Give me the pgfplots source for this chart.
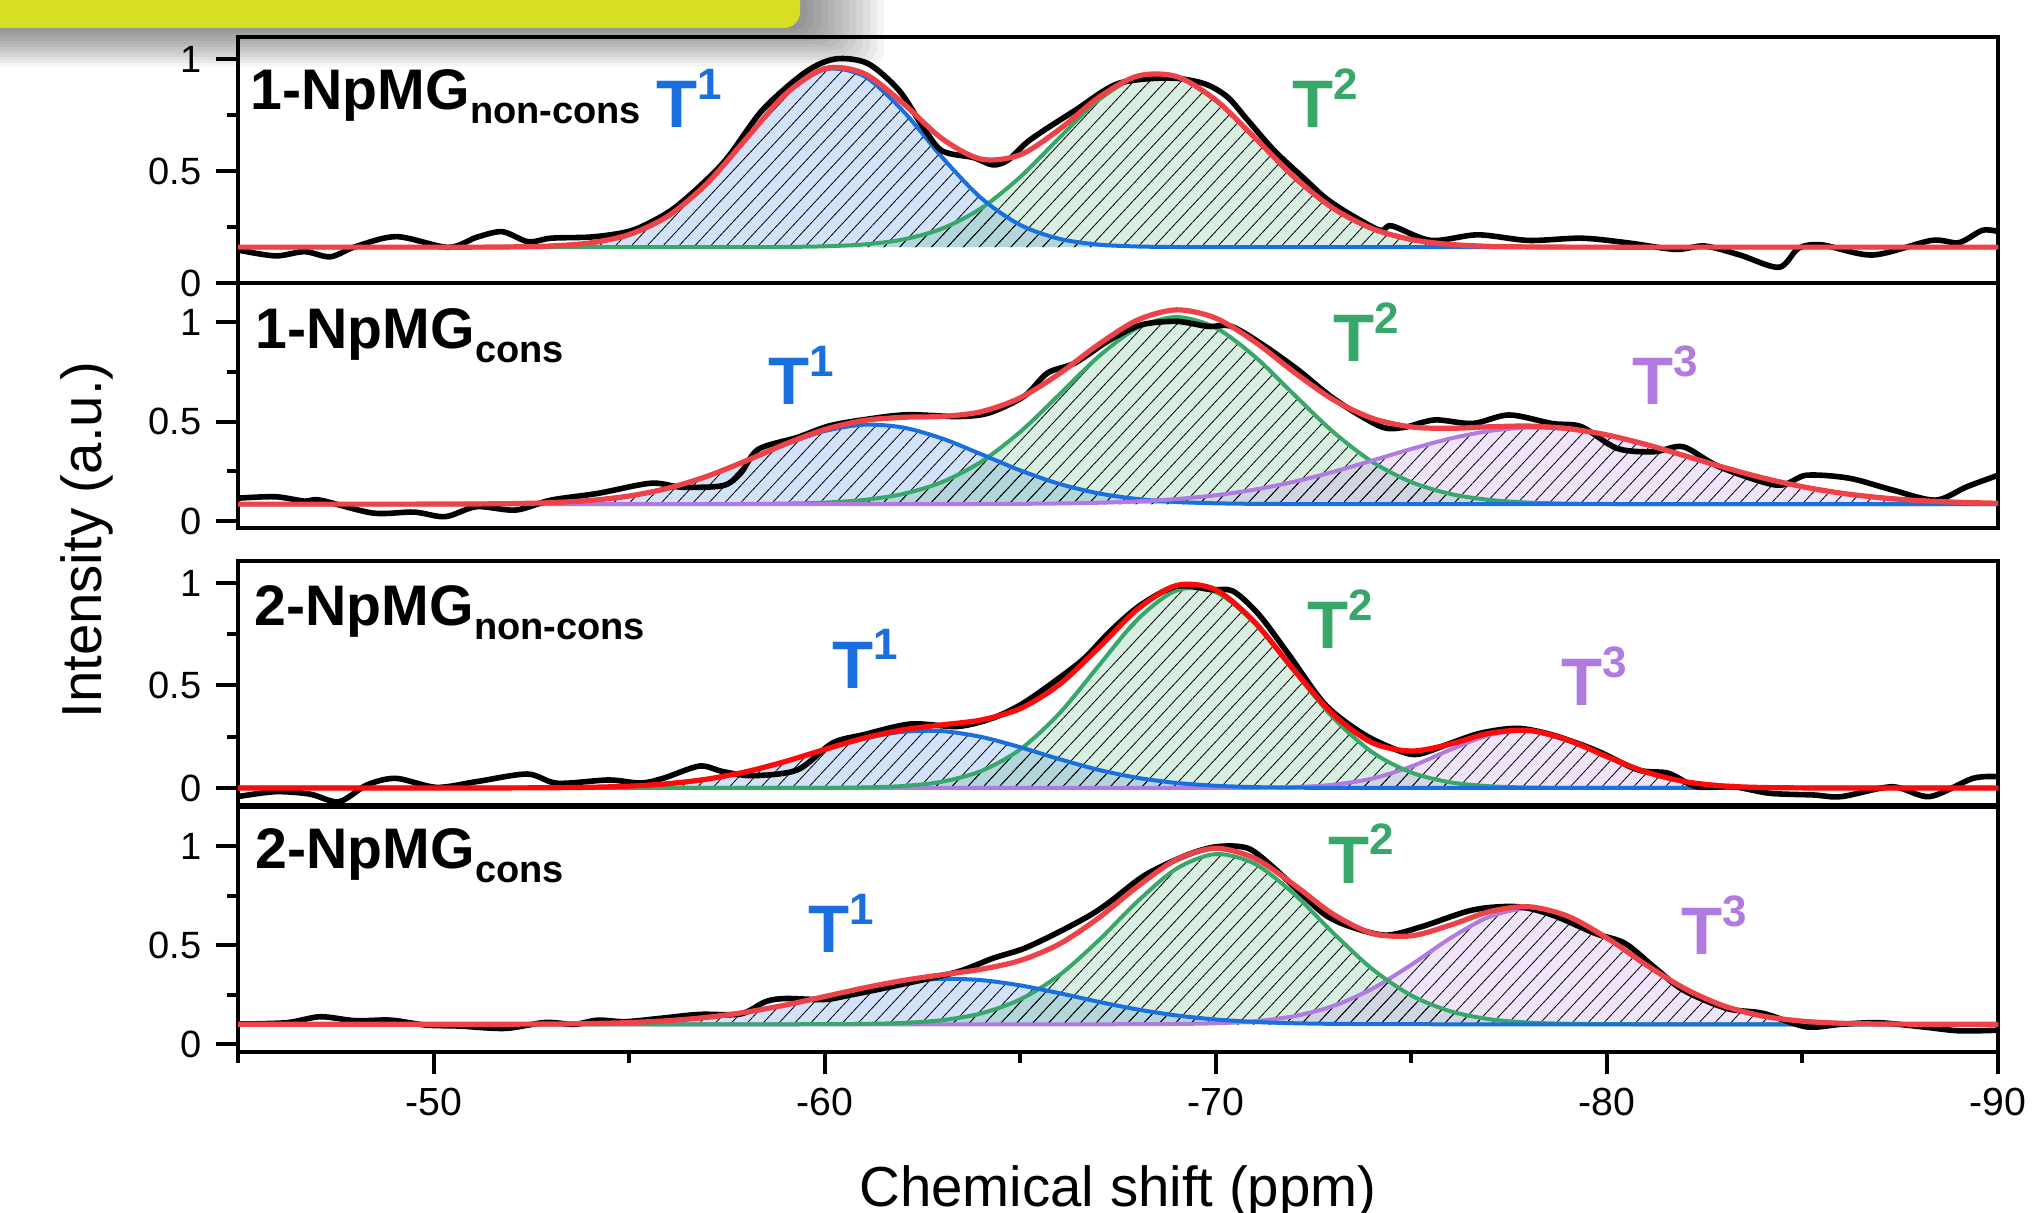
\documentclass[border=0pt]{standalone}
\usepackage{fontspec}
\setmainfont{Liberation Sans}
\usepackage{pgfplots}
\usepackage{pgfplotstable}
\pgfplotsset{compat=1.18}
\usepgfplotslibrary{fillbetween}
\usetikzlibrary{patterns.meta}

\definecolor{cT1}{HTML}{1A6FDF}
\definecolor{cT2}{HTML}{37A86A}
\definecolor{cT3}{HTML}{B07AE0}
\definecolor{cfit}{HTML}{EE4248}
\definecolor{cfitB}{HTML}{FF0A0A}
\definecolor{barcol}{HTML}{D7DF23}

% ---------- fitted components (x, T1, T2, [T3], sum) ----------
\pgfplotstableread{
x t1 t2 sum
-45 0.16 0.16 0.16
-46 0.16 0.16 0.16
-47 0.16 0.16 0.16
-48 0.16 0.16 0.16
-49 0.16 0.16 0.16
-50 0.16 0.16 0.16
-51 0.16 0.16 0.16
-52 0.1612 0.16 0.1612
-53 0.1652 0.16 0.1652
-54 0.1788 0.16 0.1788
-55 0.2162 0.16 0.2162
-56 0.2994 0.16 0.2994
-57 0.4458 0.16 0.4458
-58 0.6452 0.1602 0.6454
-59 0.8419 0.161 0.8429
-60 0.9532 0.1637 0.9569
-61 0.9238 0.1721 0.9359
-62 0.7688 0.194 0.8028
-63 0.5617 0.2427 0.6444
-64 0.3794 0.3333 0.5527
-65 0.2591 0.4732 0.5723
-66 0.1971 0.6481 0.6852
-67 0.1715 0.8162 0.8277
-68 0.1629 0.9208 0.9237
-69 0.1606 0.9208 0.9214
-70 0.16 0.8162 0.8162
-71 0.16 0.6481 0.6481
-72 0.16 0.4732 0.4732
-73 0.16 0.3333 0.3333
-74 0.16 0.2427 0.2427
-75 0.16 0.194 0.194
-76 0.16 0.1721 0.1721
-77 0.16 0.1637 0.1637
-78 0.16 0.161 0.161
-79 0.16 0.1602 0.1602
-80 0.16 0.16 0.16
-82 0.16 0.16 0.16
-84 0.16 0.16 0.16
-86 0.16 0.16 0.16
-88 0.16 0.16 0.16
-90 0.16 0.16 0.16
}\tA

\pgfplotstableread{
x t1 t2 t3 sum
-45 0.085 0.085 0.085 0.085
-47 0.085 0.085 0.085 0.085
-49 0.085 0.085 0.085 0.085
-50 0.0852 0.085 0.085 0.0852
-51 0.0858 0.085 0.085 0.0858
-52 0.0876 0.085 0.085 0.0876
-53 0.0923 0.085 0.085 0.0923
-54 0.1034 0.085 0.085 0.1034
-55 0.1257 0.085 0.085 0.1257
-56 0.1651 0.085 0.085 0.1651
-57 0.2251 0.0852 0.085 0.2253
-58 0.3026 0.0857 0.085 0.3033
-59 0.385 0.0875 0.085 0.3875
-60 0.4522 0.0926 0.085 0.4598
-61 0.484 0.106 0.085 0.505
-62 0.4701 0.136 0.085 0.5211
-63 0.4149 0.1955 0.0852 0.5256
-64 0.336 0.2976 0.0856 0.5492
-65 0.2545 0.4481 0.0864 0.619
-66 0.1866 0.6355 0.0883 0.7404
-67 0.1391 0.826 0.0919 0.887
-68 0.1106 0.9708 0.0987 1.0101
-69 0.0957 1.025 0.1105 1.0612
-70 0.089 0.9708 0.1296 1.0194
-71 0.0863 0.826 0.1581 0.9004
-72 0.0854 0.6355 0.1973 0.7482
-73 0.085 0.4481 0.2469 0.61
-74 0.085 0.2976 0.3037 0.5163
-75 0.085 0.1955 0.3623 0.4728
-76 0.085 0.136 0.4147 0.4657
-77 0.085 0.106 0.4526 0.4736
-78 0.085 0.0926 0.4695 0.4771
-79 0.085 0.0875 0.4622 0.4647
-80 0.085 0.0857 0.432 0.4327
-81 0.085 0.0852 0.3845 0.3847
-82 0.085 0.085 0.3274 0.3274
-83 0.085 0.085 0.269 0.269
-84 0.085 0.085 0.216 0.216
-85 0.085 0.085 0.1725 0.1725
-86 0.085 0.085 0.1398 0.1398
-87 0.085 0.085 0.1172 0.1172
-88 0.085 0.085 0.1027 0.1027
-89 0.085 0.085 0.0942 0.0942
-90 0.085 0.085 0.0894 0.0894
}\tB

\pgfplotstableread{
x t1 t2 t3 sum
-45 0 0 0 0
-47 0 0 0 0
-49 0 0 0 0
-51 0 0 0 0
-52 0.0004 0 0 0.0004
-53 0.0012 0 0 0.0012
-54 0.0034 0 0 0.0034
-55 0.009 0 0 0.009
-56 0.021 0 0 0.021
-57 0.0434 0 0 0.0434
-58 0.0796 0 0 0.0796
-59 0.1296 0 0 0.1296
-60 0.1873 0.0006 0 0.1879
-61 0.2405 0.0026 0 0.2431
-62 0.2741 0.0096 0 0.2837
-63 0.2773 0.0306 0 0.3079
-64 0.2492 0.0825 0 0.3317
-65 0.1988 0.1882 0 0.387
-66 0.1408 0.3636 0 0.5044
-67 0.0886 0.5944 0 0.683
-68 0.0494 0.8225 0 0.8719
-69 0.0245 0.9636 0 0.9881
-70 0.0108 0.9556 0.0001 0.9665
-71 0.0042 0.8022 0.0009 0.8073
-72 0.0015 0.5702 0.0042 0.5759
-73 0.0005 0.343 0.0157 0.3592
-74 0 0.1746 0.0461 0.2207
-75 0 0.0753 0.1051 0.1804
-76 0 0.0275 0.1868 0.2143
-77 0 0.0085 0.2585 0.267
-78 0 0.0022 0.2786 0.2808
-79 0 0.0005 0.2339 0.2344
-80 0 0 0.1529 0.1529
-81 0 0 0.0778 0.0778
-82 0 0 0.0309 0.0309
-83 0 0 0.0095 0.0095
-84 0 0 0.0023 0.0023
-85 0 0 0.0004 0.0004
-86 0 0 0 0
-88 0 0 0 0
-90 0 0 0 0
}\tC

\pgfplotstableread{
x t1 t2 t3 sum
-45 0.1 0.1 0.1 0.1
-47 0.1 0.1 0.1 0.1
-49 0.1 0.1 0.1 0.1
-50 0.1 0.1 0.1 0.1
-51 0.1002 0.1 0.1 0.1002
-52 0.1005 0.1 0.1 0.1005
-53 0.1014 0.1 0.1 0.1014
-54 0.1037 0.1 0.1 0.1037
-55 0.1086 0.1 0.1 0.1086
-56 0.1183 0.1 0.1 0.1183
-57 0.1352 0.1 0.1 0.1352
-58 0.1614 0.1 0.1 0.1614
-59 0.1972 0.1 0.1 0.1972
-60 0.2395 0.1005 0.1 0.24
-61 0.2816 0.1019 0.1 0.2835
-62 0.3144 0.1067 0.1 0.3211
-63 0.3295 0.1206 0.1 0.3501
-64 0.3229 0.1549 0.1 0.3778
-65 0.2964 0.2256 0.1 0.422
-66 0.2569 0.3481 0.1 0.505
-67 0.2136 0.5225 0.1 0.6361
-68 0.1747 0.7207 0.1004 0.7958
-69 0.1445 0.8864 0.1015 0.9324
-70 0.1241 0.9594 0.1051 0.9886
-71 0.1118 0.91 0.1156 0.9374
-72 0.1052 0.7585 0.1408 0.8045
-73 0.1021 0.5617 0.1921 0.6559
-74 0.1008 0.3792 0.2792 0.5592
-75 0.1003 0.2456 0.4006 0.5465
-76 0.1 0.1655 0.5352 0.6007
-77 0.1 0.1255 0.6433 0.6688
-78 0.1 0.1085 0.685 0.6935
-79 0.1 0.1025 0.6433 0.6458
-80 0.1 0.1006 0.5352 0.5358
-81 0.1 0.1 0.4006 0.4006
-82 0.1 0.1 0.2792 0.2792
-83 0.1 0.1 0.1921 0.1921
-84 0.1 0.1 0.1408 0.1408
-85 0.1 0.1 0.1156 0.1156
-86 0.1 0.1 0.1051 0.1051
-87 0.1 0.1 0.1015 0.1015
-88 0.1 0.1 0.1004 0.1004
-89 0.1 0.1 0.1001 0.1001
-90 0.1 0.1 0.1 0.1
}\tD

% ---------- measured spectra ----------
\pgfplotstableread{
x y
-45 0.147
-45.96 0.121
-46.7 0.14
-47.36 0.117
-48.0 0.162
-49.05 0.207
-50.37 0.159
-51.1 0.204
-51.76 0.229
-52.42 0.184
-53.0 0.2
-54.0 0.205
-54.77 0.222
-55.3 0.25
-56.2 0.34
-57.4 0.535
-58.4 0.77
-59.5 0.94
-60.27 1.0
-61.1 0.98
-61.9 0.86
-62.5 0.70
-63.0 0.59
-63.8 0.56
-64.3 0.527
-64.7 0.55
-65.26 0.64
-66.4 0.77
-67.5 0.89
-68.8 0.915
-69.7 0.89
-70.3 0.83
-70.8 0.73
-71.5 0.59
-72.3 0.46
-72.8 0.38
-73.4 0.31
-74.2 0.235
-74.5 0.255
-75.5 0.19
-76.7 0.215
-78.0 0.19
-79.35 0.2
-80.5 0.18
-81.75 0.15
-82.5 0.165
-83.4 0.125
-84.4 0.07
-84.9 0.155
-85.5 0.17
-86.8 0.125
-88.3 0.19
-89.0 0.18
-89.6 0.235
-90 0.23
}\eA

\pgfplotstableread{
x y
-45 0.115
-45.96 0.122
-46.7 0.1
-47.1 0.105
-48.45 0.04
-49.5 0.045
-50.3 0.022
-51.1 0.072
-52.1 0.055
-53.0 0.105
-54.2 0.139
-55.56 0.19
-56.35 0.17
-57.4 0.178
-57.85 0.24
-58.3 0.36
-59.3 0.42
-60.1 0.477
-61.0 0.509
-62.1 0.534
-63.4 0.525
-64.2 0.543
-65.1 0.627
-65.7 0.744
-66.4 0.794
-67.3 0.911
-68.1 0.986
-69.0 1.003
-69.8 0.978
-70.4 0.978
-71.2 0.886
-72.1 0.76
-73.05 0.61
-74.2 0.476
-74.8 0.47
-75.6 0.508
-76.57 0.49
-77.5 0.533
-78.6 0.49
-79.35 0.474
-80.26 0.365
-81.2 0.348
-81.95 0.373
-82.87 0.273
-84.35 0.18
-85.1 0.23
-86.2 0.215
-87.3 0.156
-88.4 0.105
-89.2 0.172
-90 0.23
}\eB

\pgfplotstableread{
x y
-45 -0.042
-45.96 -0.018
-46.84 -0.03
-47.58 -0.067
-48.3 0.015
-49.04 0.047
-50.07 0.003
-51.1 0.031
-52.4 0.068
-53.16 0.023
-54.48 0.039
-55.3 0.024
-55.9 0.049
-56.8 0.107
-57.4 0.08
-58.15 0.06
-59.3 0.088
-60.2 0.219
-61.0 0.26
-62.2 0.312
-63.4 0.3
-64.3 0.341
-65.09 0.415
-66.0 0.537
-66.65 0.634
-67.3 0.764
-68.09 0.894
-69.0 0.984
-69.9 0.967
-70.44 0.96
-71.1 0.846
-71.87 0.65
-72.8 0.406
-73.8 0.26
-74.72 0.179
-75.2 0.165
-76.0 0.218
-76.76 0.267
-77.7 0.291
-78.6 0.259
-79.7 0.185
-80.8 0.088
-81.57 0.072
-82.3 0.006
-83.24 0.006
-84.17 -0.026
-85.28 -0.034
-86.0 -0.042
-87.3 0.006
-88.25 -0.042
-89.36 0.047
-90 0.055
}\eC

\pgfplotstableread{
x y
-45 0.101
-46.25 0.108
-47.1 0.138
-48.0 0.118
-48.9 0.121
-49.8 0.096
-50.66 0.091
-51.83 0.079
-52.85 0.109
-53.6 0.1
-54.2 0.121
-54.9 0.113
-55.8 0.13
-56.8 0.15
-57.85 0.152
-58.5 0.215
-59.0 0.23
-60.0 0.225
-60.64 0.247
-61.3 0.273
-62.08 0.306
-63.4 0.365
-64.3 0.433
-65.1 0.483
-66.0 0.567
-66.8 0.652
-67.3 0.719
-68.2 0.854
-69.27 0.955
-70.04 0.997
-70.83 0.988
-71.5 0.887
-72.13 0.77
-72.8 0.652
-73.44 0.593
-74.35 0.55
-75.27 0.593
-76.57 0.677
-77.7 0.694
-78.6 0.652
-79.7 0.559
-80.46 0.509
-81.2 0.39
-81.95 0.273
-83.06 0.18
-84.0 0.155
-85.1 0.087
-86.0 0.1
-86.94 0.108
-88.06 0.087
-89.0 0.067
-90 0.07
}\eD

\pgfplotsset{
  panel/.style={
    scale only axis, width=440pt, anchor=south west,
    xmin=-90, xmax=-45, x dir=reverse,
    axis line style={line width=1.1pt},
    every tick/.style={line width=1pt, black},
    tick align=outside,
    major tick length=5.6pt, minor tick length=2.8pt,
    ytick={0,0.5,1}, yticklabels={0,0.5,1},
    minor ytick={0.25,0.75},
    ytick pos=left,
    xtick=\empty,
    yticklabel style={font=\fontsize{9.5}{10}\selectfont},
  },
  bottompanel/.style={
    xtick={-90,-80,-70,-60,-50}, xticklabels={-90,-80,-70,-60,-50},
    minor xtick={-85,-75,-65,-55,-45},
    xtick pos=bottom,
    xticklabel style={font=\fontsize{9.8}{10}\selectfont},
  },
  cfill/.style={draw=none, fill=#1, fill opacity=0.2},
  cpat/.style={draw=none, pattern={Lines[angle=47,distance=2.9pt,line width=0.2pt]}, pattern color=black, fill opacity=0.12},
  cline/.style={#1, line width=1pt, smooth},
  expline/.style={black, line width=1.4pt, smooth},
  fitline/.style={#1, line width=1.3pt, smooth},
}

\newcommand{\plab}[2]{{\bfseries\fontsize{14.3}{15}\selectfont #1\raisebox{-3.5pt}{\fontsize{9.5}{11}\selectfont #2}}}
\newcommand{\tlab}[2]{{\bfseries\color{#1}\fontsize{16.8}{17}\selectfont T\raisebox{7pt}{\fontsize{11}{12}\selectfont #2}}}

\begin{document}
\begin{tikzpicture}
\foreach \k in {1,...,12}{\fill[black,opacity=0.045,rounded corners=4pt] (-10pt,310pt) rectangle ({200pt+1.75pt*\k},{296pt-0.8pt*\k});}
\fill[barcol,rounded corners=4pt] (-10pt,310pt) rectangle (200pt,296pt);

% ---------------- Panel 1 ----------------
\begin{axis}[panel, at={(59.5pt,232.25pt)}, height=61.5pt, ymin=0, ymax=1.098]
\addplot[name path=bA, draw=none] coordinates {(-45,0.16) (-90,0.16)};
\addplot[name path=aA1, draw=none, smooth] table[x=x,y=t1]{\tA};
\addplot[name path=aA2, draw=none, smooth] table[x=x,y=t2]{\tA};
\addplot[cfill=cT1] fill between[of=aA1 and bA];
\addplot[cpat] fill between[of=aA1 and bA];
\addplot[cfill=cT2] fill between[of=aA2 and bA];
\addplot[cpat] fill between[of=aA2 and bA];
\addplot[cline=cT2] table[x=x,y=t2]{\tA};
\addplot[cline=cT1] table[x=x,y=t1]{\tA};
\addplot[expline] table[x=x,y=y]{\eA};
\addplot[fitline=cfit] table[x=x,y=sum]{\tA};
\end{axis}

% ---------------- Panel 2 ----------------
\begin{axis}[panel, at={(59.5pt,171pt)}, height=61.25pt, ymin=-0.035, ymax=1.196]
\addplot[name path=bB, draw=none] coordinates {(-45,0.085) (-90,0.085)};
\addplot[name path=aB1, draw=none, smooth] table[x=x,y=t1]{\tB};
\addplot[name path=aB2, draw=none, smooth] table[x=x,y=t2]{\tB};
\addplot[name path=aB3, draw=none, smooth] table[x=x,y=t3]{\tB};
\addplot[cfill=cT1] fill between[of=aB1 and bB];
\addplot[cpat] fill between[of=aB1 and bB];
\addplot[cfill=cT2] fill between[of=aB2 and bB];
\addplot[cpat] fill between[of=aB2 and bB];
\addplot[cfill=cT3] fill between[of=aB3 and bB];
\addplot[cpat] fill between[of=aB3 and bB];
\addplot[cline=cT2] table[x=x,y=t2]{\tB};
\addplot[cline=cT1] table[x=x,y=t1]{\tB};
\addplot[cline=cT3] table[x=x,y=t3]{\tB};
\addplot[expline] table[x=x,y=y]{\eB};
\addplot[fitline=cfit] table[x=x,y=sum]{\tB};
\end{axis}

% ---------------- Panel 3 ----------------
\begin{axis}[panel, at={(59.5pt,101.75pt)}, height=61pt, ymin=-0.083, ymax=1.107]
\addplot[name path=bC, draw=none] coordinates {(-45,0) (-90,0)};
\addplot[name path=aC1, draw=none, smooth] table[x=x,y=t1]{\tC};
\addplot[name path=aC2, draw=none, smooth] table[x=x,y=t2]{\tC};
\addplot[name path=aC3, draw=none, smooth] table[x=x,y=t3]{\tC};
\addplot[cfill=cT1] fill between[of=aC1 and bC];
\addplot[cpat] fill between[of=aC1 and bC];
\addplot[cfill=cT2] fill between[of=aC2 and bC];
\addplot[cpat] fill between[of=aC2 and bC];
\addplot[cfill=cT3] fill between[of=aC3 and bC];
\addplot[cpat] fill between[of=aC3 and bC];
\addplot[cline=cT3] table[x=x,y=t3]{\tC};
\addplot[cline=cT2] table[x=x,y=t2]{\tC};
\addplot[cline=cT1] table[x=x,y=t1]{\tC};
\addplot[expline] table[x=x,y=y]{\eC};
\addplot[fitline=cfitB] table[x=x,y=sum]{\tC};
\end{axis}

% ---------------- Panel 4 ----------------
\begin{axis}[panel, bottompanel, at={(59.5pt,40pt)}, height=61.25pt, ymin=-0.04, ymax=1.197]
\addplot[name path=bD, draw=none] coordinates {(-45,0.1) (-90,0.1)};
\addplot[name path=aD1, draw=none, smooth] table[x=x,y=t1]{\tD};
\addplot[name path=aD2, draw=none, smooth] table[x=x,y=t2]{\tD};
\addplot[name path=aD3, draw=none, smooth] table[x=x,y=t3]{\tD};
\addplot[cfill=cT1] fill between[of=aD1 and bD];
\addplot[cpat] fill between[of=aD1 and bD];
\addplot[cfill=cT2] fill between[of=aD2 and bD];
\addplot[cpat] fill between[of=aD2 and bD];
\addplot[cfill=cT3] fill between[of=aD3 and bD];
\addplot[cpat] fill between[of=aD3 and bD];
\addplot[cline=cT3] table[x=x,y=t3]{\tD};
\addplot[cline=cT2] table[x=x,y=t2]{\tD};
\addplot[cline=cT1] table[x=x,y=t1]{\tD};
\addplot[expline] table[x=x,y=y]{\eD};
\addplot[fitline=cfit] table[x=x,y=sum]{\tD};
\end{axis}

% ---------------- labels ----------------
\node[anchor=base west, inner sep=0pt] at (62.5pt,275.5pt) {\plab{1-NpMG}{non-cons}};
\node[anchor=base west, inner sep=0pt] at (63.75pt,215.75pt) {\plab{1-NpMG}{cons}};
\node[anchor=base west, inner sep=0pt] at (63.5pt,146.5pt) {\plab{2-NpMG}{non-cons}};
\node[anchor=base west, inner sep=0pt] at (63.75pt,86pt) {\plab{2-NpMG}{cons}};

\node[anchor=base west, inner sep=0pt] at (164pt,271pt) {\tlab{cT1}{1}};
\node[anchor=base west, inner sep=0pt] at (323pt,271pt) {\tlab{cT2}{2}};
\node[anchor=base west, inner sep=0pt] at (192pt,201.75pt) {\tlab{cT1}{1}};
\node[anchor=base west, inner sep=0pt] at (333.25pt,212.5pt) {\tlab{cT2}{2}};
\node[anchor=base west, inner sep=0pt] at (408pt,201.75pt) {\tlab{cT3}{3}};
\node[anchor=base west, inner sep=0pt] at (208pt,131pt) {\tlab{cT1}{1}};
\node[anchor=base west, inner sep=0pt] at (326.75pt,140.75pt) {\tlab{cT2}{2}};
\node[anchor=base west, inner sep=0pt] at (390.25pt,126.5pt) {\tlab{cT3}{3}};
\node[anchor=base west, inner sep=0pt] at (202pt,65pt) {\tlab{cT1}{1}};
\node[anchor=base west, inner sep=0pt] at (332pt,82.25pt) {\tlab{cT2}{2}};
\node[anchor=base west, inner sep=0pt] at (420.25pt,64.5pt) {\tlab{cT3}{3}};

\node[rotate=90, anchor=base, inner sep=0pt, font=\fontsize{14.1}{15}\selectfont] at (25.25pt,168pt) {Intensity (a.u.)};
\node[anchor=base, inner sep=0pt, font=\fontsize{14.1}{15}\selectfont] at (279.5pt,1.5pt) {Chemical shift (ppm)};

\pgfresetboundingbox
\useasboundingbox (0,0) rectangle (509pt,303pt);
\end{tikzpicture}
\end{document}
